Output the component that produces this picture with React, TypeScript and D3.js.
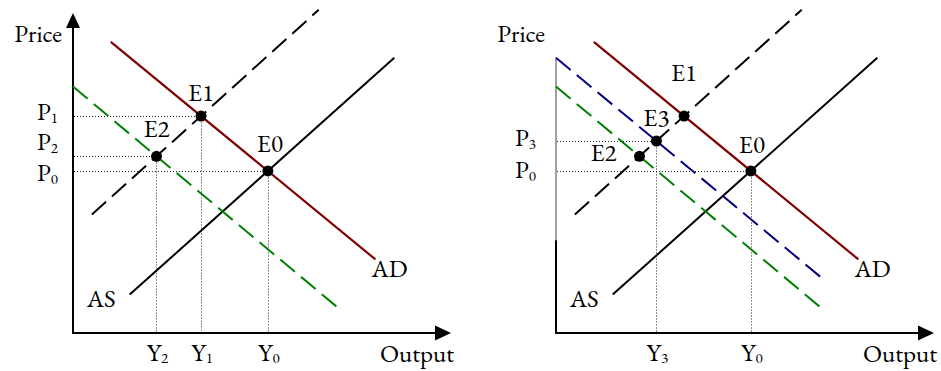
import React from 'react';
import * as d3 from 'd3';

// curves as [output, price] endpoints on a 0..100 grid
const curveIds = ['AD', 'AS', 'AS1', 'AD2', 'AD3'];
const curveFrom = [[10, 91], [15, 12], [5, 37], [0, 77], [0, 86]];
const curveTo = [[80, 23], [85, 86], [65, 101], [70, 8], [70, 17.5]];

// equilibria = crossing of two curves
const eqIds = ['E0', 'E1', 'E2', 'E3'];
const eqCurves = [['AD', 'AS'], ['AD', 'AS1'], ['AD2', 'AS1'], ['AD3', 'AS1']];

const leftCurves = ['AD', 'AS', 'AS1', 'AD2'];
const rightCurves = ['AD', 'AS', 'AS1', 'AD2', 'AD3'];
const leftEq = ['E0', 'E1', 'E2'];
const rightEq = ['E0', 'E1', 'E2', 'E3'];
const leftGuides = ['E1', 'E2', 'E0'];
const leftSubs = ['1', '2', '0'];
const rightGuides = ['E3', 'E0'];
const rightSubs = ['3', '0'];

const styles: Record<string, { color: string; dash: string | null; w: number }> = {
  AD: { color: '#800000', dash: null, w: 2.2 },
  AS: { color: '#000', dash: null, w: 2 },
  AS1: { color: '#000', dash: '19,8', w: 2 },
  AD2: { color: '#008000', dash: '19,8', w: 2 },
  AD3: { color: '#000080', dash: '19,8', w: 2 },
};

const FONT = "Garamond, 'EB Garamond', 'Liberation Serif', 'Times New Roman', serif";

function curve(id: string) {
  const i = curveIds.indexOf(id);
  return { from: curveFrom[i], to: curveTo[i] };
}

function cross(a: string, b: string) {
  const c1 = curve(a), c2 = curve(b);
  const m1 = (c1.to[1] - c1.from[1]) / (c1.to[0] - c1.from[0]);
  const m2 = (c2.to[1] - c2.from[1]) / (c2.to[0] - c2.from[0]);
  const b1 = c1.from[1] - m1 * c1.from[0];
  const b2 = c2.from[1] - m2 * c2.from[0];
  const x = (b2 - b1) / (m1 - m2);
  return [x, m1 * x + b1];
}

function eq(id: string) {
  const i = eqIds.indexOf(id);
  return cross(eqCurves[i][0], eqCurves[i][1]);
}

type PanelProps = {
  ox: number;
  curves: string[];
  eqs: string[];
  guides: string[];
  subs: string[];
  eqOff: Record<string, number[]>;
  pOff: number[];
  right?: boolean;
};

const Panel = ({ ox, curves, eqs, guides, subs, eqOff, pOff, right }: PanelProps) => {
  const x = d3.scaleLinear().domain([0, 100]).range([ox, ox + 378]);
  const y = d3.scaleLinear().domain([0, 100]).range([333, 13]);
  const line = d3.line<number[]>().x(d => x(d[0])).y(d => y(d[1]));
  const x0 = x(0), y0 = y(0);
  const xEnd = x(100);
  const adEnd = curve('AD').to;
  const asStart = curve('AS').from;

  return (
    <g>
      {/* axes */}
      {right ? (
        <g>
          <line x1={x0} x2={x0} y1={y(86)} y2={y(29)} stroke="#444" strokeWidth={1} />
          <line x1={x0} x2={x0} y1={y(29)} y2={y0 + 1} stroke="#000" strokeWidth={2} />
        </g>
      ) : (
        <g>
          <line x1={x0} x2={x0} y1={y0 + 1} y2={y(100) + 14} stroke="#000" strokeWidth={2} />
          <path d={`M${x0},${y(100)}L${x0 - 7},${y(100) + 15}L${x0 + 7},${y(100) + 15}Z`} fill="#000" />
        </g>
      )}
      <line x1={x0 - 1} x2={xEnd - 14} y1={y0} y2={y0} stroke="#000" strokeWidth={2} />
      <path d={`M${xEnd},${y0}L${xEnd - 16},${y0 - 7.5}L${xEnd - 16},${y0 + 7.5}Z`} fill="#000" />

      {/* dotted guides */}
      {guides.map(g => {
        const p = eq(g);
        const px = Math.round(x(p[0])) + 0.5, py = Math.round(y(p[1])) + 0.5;
        return (
          <g key={g} stroke="#222" strokeWidth={1} strokeDasharray="1,2">
            <line x1={x0 + 1} x2={px} y1={py} y2={py} />
            <line x1={px} x2={px} y1={py} y2={y0 - 1} />
          </g>
        );
      })}

      {/* curves */}
      {curves.map(c => {
        const s = styles[c];
        const cv = curve(c);
        return (
          <path key={c} d={line([cv.from, cv.to]) || ''} fill="none" stroke={s.color}
            strokeWidth={s.w} strokeDasharray={s.dash || undefined} />
        );
      })}

      {/* equilibrium points */}
      {eqs.map(e => {
        const p = eq(e);
        const o = eqOff[e];
        return (
          <g key={e}>
            <circle cx={x(p[0])} cy={y(p[1])} r={5.5} fill="#000" />
            <text x={x(p[0]) + o[0]} y={y(p[1]) + o[1]} textAnchor="middle">{e}</text>
          </g>
        );
      })}

      {/* axis labels */}
      {guides.map((g, i) => {
        const p = eq(g);
        return (
          <g key={'l' + g}>
            <text x={x0 - (right ? 20 : 15)} y={y(p[1]) + pOff[i]} textAnchor="end">
              P<tspan fontSize={15} dy={3}>{subs[i]}</tspan>
            </text>
            <text x={x(p[0]) + 1} y={361} textAnchor="middle">
              Y<tspan fontSize={15} dy={2}>{subs[i]}</tspan>
            </text>
          </g>
        );
      })}
      <text x={x0 - 11} y={42} textAnchor="end">Price</text>
      <text x={xEnd + 3} y={362} textAnchor="end">Output</text>
      <text x={x(adEnd[0]) - 4} y={y(adEnd[1]) + 18}>AD</text>
      <text x={x(asStart[0]) - 14} y={y(asStart[1]) + 12} textAnchor="end">AS</text>
    </g>
  );
};

export default function App() {
  return (
    <svg width={941} height={371} style={{ position: 'absolute', left: 0, top: 0, background: '#fff' }}
      fontFamily={FONT} fontSize={25} fill="#000">
      <Panel ox={73} curves={leftCurves} eqs={leftEq} guides={leftGuides} subs={leftSubs}
        eqOff={{ E0: [2, -19], E1: [0, -15], E2: [0, -19] }} pOff={[4, -6, 10]} />
      <Panel ox={556} curves={rightCurves} eqs={rightEq} guides={rightGuides} subs={rightSubs}
        eqOff={{ E0: [1, -18], E1: [0, -35], E2: [-36, 5], E3: [0, -15] }} pOff={[5, 7]} right />
    </svg>
  );
}
